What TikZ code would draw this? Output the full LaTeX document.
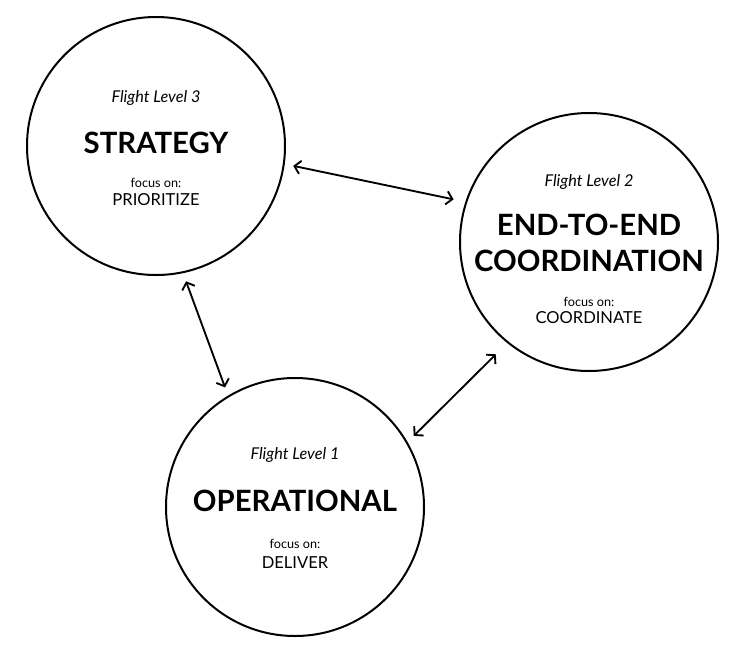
\documentclass[tikz,border=0pt]{standalone}
\usepackage{fontspec}
\setmainfont{Lato}
\usepackage{tikz}
\usetikzlibrary{arrows.meta,calc}

\begin{document}
\begin{tikzpicture}[line cap=round,line join=round,>={Straight Barb[length=4.5pt,width=10pt]},x=0.75pt,y=-0.75pt,
  level/.style={circle,draw,line width=1.5pt,minimum size=193.5pt,inner sep=0pt},
  flname/.style={anchor=base,inner sep=0pt,font=\itshape\fontsize{12.2}{14}\selectfont},
  title/.style={anchor=base,inner sep=0pt,font=\bfseries\fontsize{22}{26}\selectfont},
  focus/.style={anchor=base,inner sep=0pt,font=\fontsize{9.5}{11}\selectfont},
  verb/.style={anchor=base,inner sep=0pt,font=\fontsize{12.4}{14}\selectfont},
  link/.style={<->,line width=1.4pt}]
\useasboundingbox (0,0) rectangle (750,650);
\node [level] (strat) at (156,146) {};
\node [level] (coord) at (589,242) {};
\node [level] (oper) at (295,507) {};
% level 3
\node [flname] (strat-fl) at ($(strat)+(0,-44)$) {Flight Level 3};
\node [title] (strat-title) at ($(strat)+(0,7)$) {STRATEGY};
\node [focus] (strat-focus) at ($(strat)+(0,41)$) {focus on:};
\node [verb] (strat-verb) at ($(strat)+(0,59)$) {PRIORITIZE};
% level 2
\node [flname] (coord-fl) at ($(coord)+(0,-56)$) {Flight Level 2};
\node [title] (coord-title1) at ($(coord)+(0,-7)$) {END-TO-END};
\node [title] (coord-title2) at ($(coord)+(0,29)$) {COORDINATION};
\node [focus] (coord-focus) at ($(coord)+(0,64)$) {focus on:};
\node [verb] (coord-verb) at ($(coord)+(0,81)$) {COORDINATE};
% level 1
\node [flname] (oper-fl) at ($(oper)+(0,-48)$) {Flight Level 1};
\node [title] (oper-title) at ($(oper)+(0,4)$) {OPERATIONAL};
\node [focus] (oper-focus) at ($(oper)+(0,41)$) {focus on:};
\node [verb] (oper-verb) at ($(oper)+(0,61)$) {DELIVER};
% links
\draw [link,shorten <=6.5pt,shorten >=9pt] (strat.-8) -- (coord.162);
\draw [link,shorten <=6.5pt,shorten >=6.5pt] (strat.-78) -- (oper.121);
\draw [link,shorten <=6.5pt,shorten >=12pt] (oper.30) -- (coord.-129);
\end{tikzpicture}
\end{document}
